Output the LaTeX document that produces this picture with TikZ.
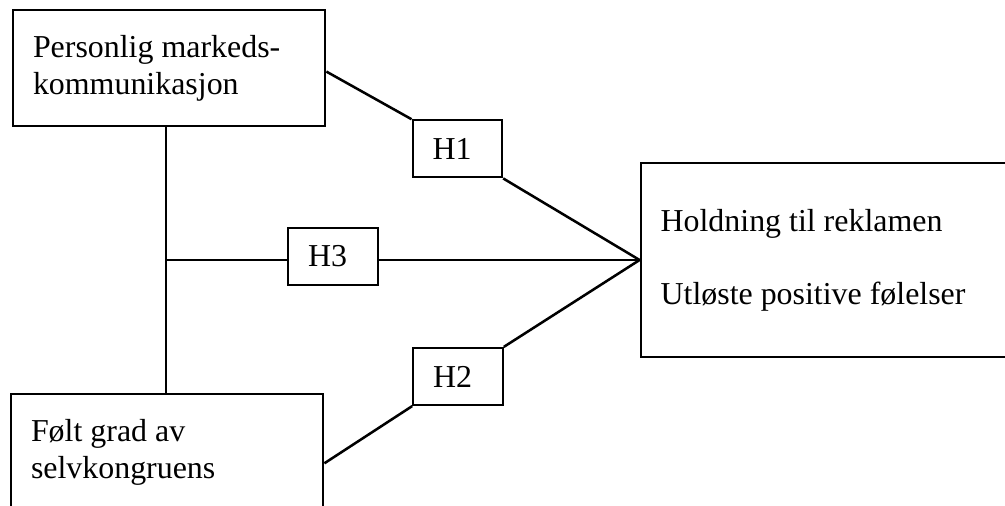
\documentclass[tikz,border=0pt]{standalone}
\usepackage{fontspec}
\setmainfont{Liberation Serif}
\usepackage{tikz}
\usetikzlibrary{positioning}
\tikzstyle{construct} = [rectangle, 
line width=2pt, 
align=flush left, 
inner xsep=0.5cm, 
draw=black]
\tikzstyle{hyp} = [rectangle, 
line width=1.4pt, 
minimum width=2.24cm, 
minimum height=1.43cm, 
text width=1.24cm, 
inner xsep=0.5cm, 
align=flush left, 
fill=white, 
draw=black]
\tikzstyle{connector} = [line width=1.8pt]

\begin{document}
\begin{tikzpicture}[font=\fontsize{22.7}{26.1}\selectfont]

        \path[use as bounding box, clip] (0,0) rectangle (25.125,12.65);

        % --- Noder ---
        \node (tl) [construct, minimum width=7.8cm, minimum height=2.9cm, text width=6.8cm] at (4.225,10.95) {Personlig markeds-\\kommunikasjon};
        \node (bl) [construct, minimum width=7.8cm, minimum height=2.93cm, text width=6.8cm] at (4.175,1.335) {Følt grad av\\selvkongruens};
        \node (rb) [construct, minimum width=9.725cm, minimum height=4.85cm, text width=8.745cm, inner xsep=0.49cm] at (20.8875,6.15) {Holdning til reklamen\\[0.9075cm]Utløste positive følelser};

        \node (h1) [hyp] at (11.434,8.929) {H1};
        \node (h3) [hyp] at (8.325,6.2375) {H3};
        \node (h2) [hyp] at (11.45,3.2375) {H2};

        \coordinate (j) at (4.15,6.15);

        % --- Forbindelser ---
        \draw [connector] (j |- tl.south) -- (j |- bl.north);
        \draw [connector] (j) -- (j -| h3.west);
        \draw [connector] (j -| h3.east) -- (rb.west);

        \draw [connector] ([yshift=-0.09cm]tl.east) -- (h1.north west);
        \draw [connector] (h1.south east) -- (rb.west);

        \draw [connector] ([yshift=-0.2675cm]bl.east) -- (h2.south west);
        \draw [connector] (h2.north east) -- (rb.west);

\end{tikzpicture}
\end{document}
